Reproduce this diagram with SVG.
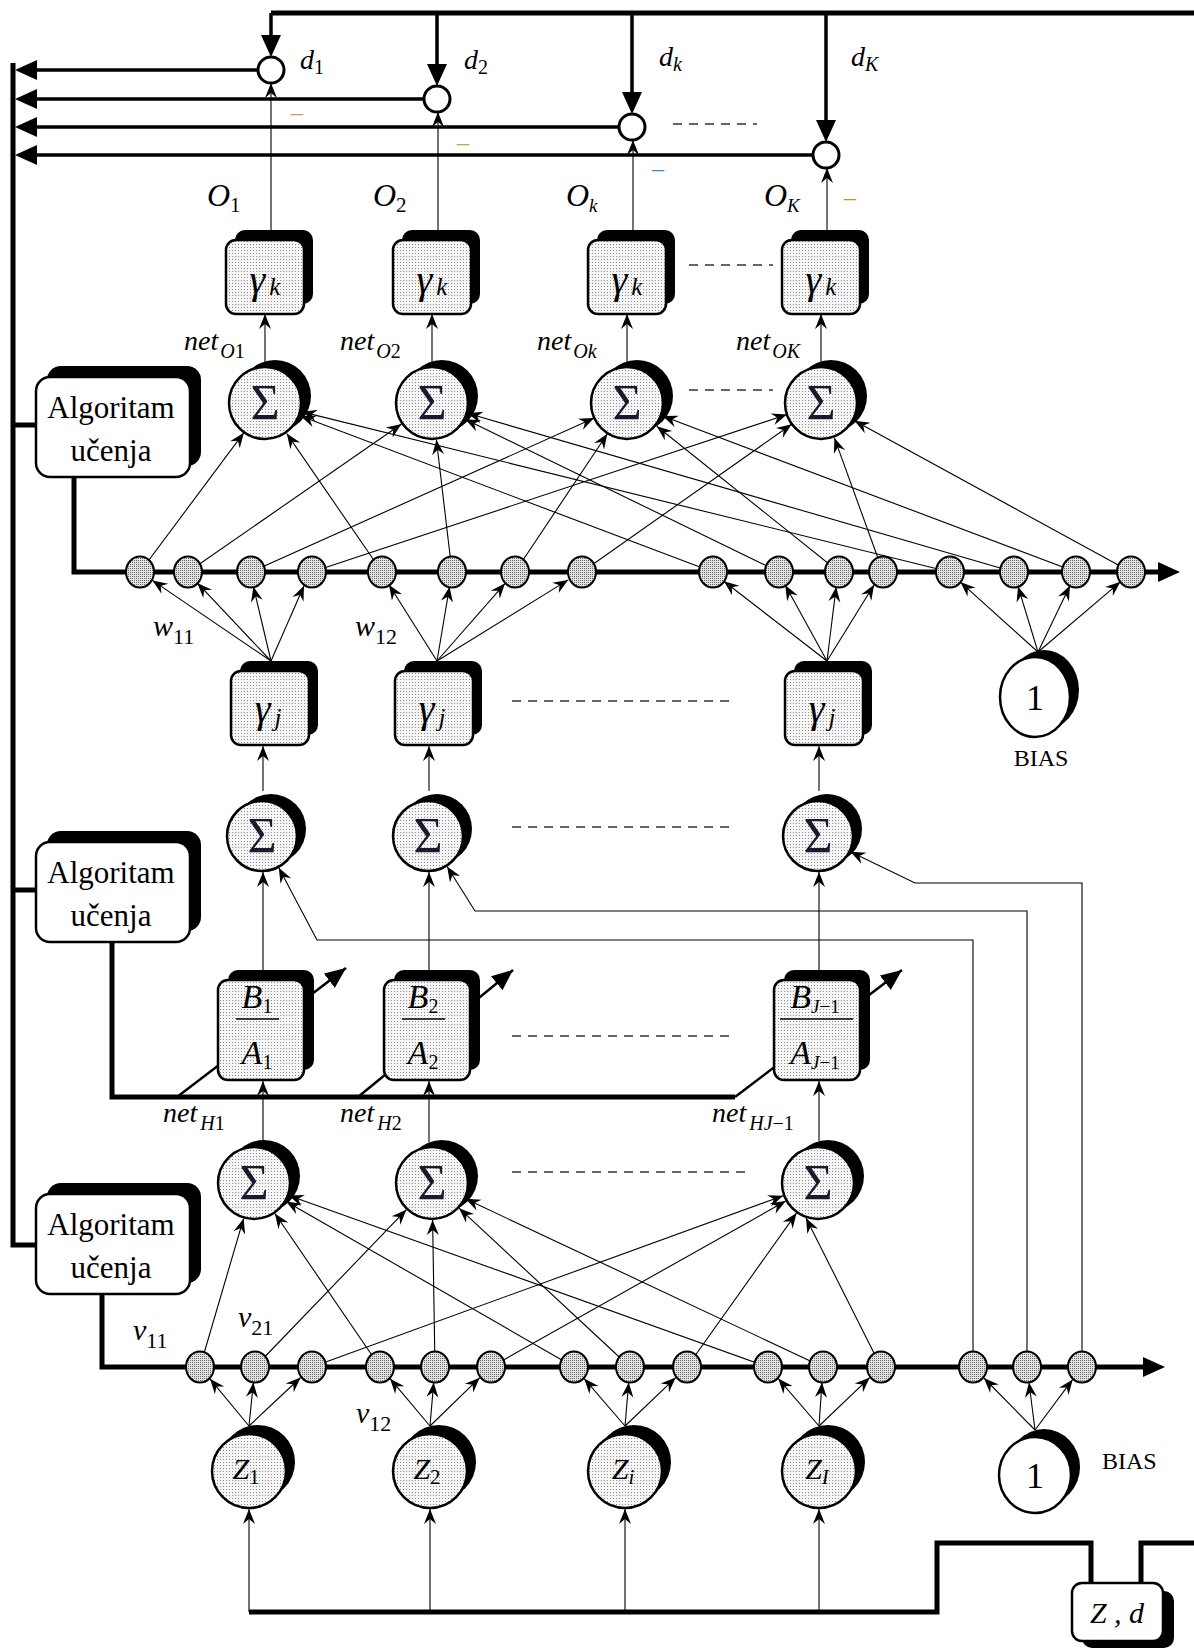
<svg xmlns="http://www.w3.org/2000/svg" width="1194" height="1650" viewBox="0 0 1194 1650">
<defs>
<pattern id="dt" width="3" height="3" patternUnits="userSpaceOnUse"><rect width="3" height="3" fill="#f6f6f6"/><rect x="1" y="1" width="1" height="1" fill="#8c8c8c"/></pattern>
<pattern id="dd" width="2" height="2" patternUnits="userSpaceOnUse"><rect width="2" height="2" fill="#e2e2e2"/><rect width="1" height="1" fill="#6a6a6a"/></pattern>
<marker id="a" viewBox="-16 -7 17 14" refX="0" refY="0" markerWidth="17" markerHeight="14" markerUnits="userSpaceOnUse" orient="auto"><path d="M0,0 L-15,-6 L-10,0 L-15,6 Z" fill="#000"/></marker>
<marker id="b" viewBox="-15 -11 24 22" refX="0" refY="0" markerWidth="24" markerHeight="22" markerUnits="userSpaceOnUse" orient="auto"><path d="M8,0 L-14,-10 L-14,10 Z" fill="#000"/></marker>
<marker id="c" viewBox="-21 -10 22 20" refX="0" refY="0" markerWidth="22" markerHeight="20" markerUnits="userSpaceOnUse" orient="auto"><path d="M0,0 L-21,-9 L-21,9 Z" fill="#000"/></marker>
</defs>
<style>
.thin{stroke:#000;stroke-width:1.1;fill:none}
.thk{stroke:#000;stroke-width:5;fill:none}
.med{stroke:#000;stroke-width:3.5;fill:none}
.adp{stroke:#000;stroke-width:2.5;fill:none}
.dash{stroke:#333;stroke-width:1.5;stroke-dasharray:9 7;fill:none}
.sh{fill:#000;stroke:none}
.fr{fill:url(#dt);stroke:#000;stroke-width:2.5}
.sm{fill:url(#dd);stroke:#000;stroke-width:2}
.wh{fill:#fff;stroke:#000;stroke-width:2.5}
.cmp{fill:#fff;stroke:#000;stroke-width:3}
text{font-family:"Liberation Serif","Times New Roman",serif;fill:#000}
.it{font-style:italic}
.sg{font-size:50px;fill:#1a1a2e}
.alg{font-size:31px}
.lb{font-size:24px}
.mn{font-size:24px}
</style>
<rect width="1194" height="1650" fill="#fff"/>

<g id="connectors">
<path class="thk" d="M271,13 H1194"/>
<path class="med" marker-end="url(#b)" d="M271,13 V49"/>
<path class="med" marker-end="url(#b)" d="M437,13 V78"/>
<path class="med" marker-end="url(#b)" d="M632,13 V106"/>
<path class="med" marker-end="url(#b)" d="M826,13 V134"/>
<path class="thk" d="M13,63 V1245 H36"/>
<path class="med" marker-end="url(#b)" d="M258,70 H23"/>
<path class="med" marker-end="url(#b)" d="M424,99 H23"/>
<path class="med" marker-end="url(#b)" d="M619,127 H23"/>
<path class="med" marker-end="url(#b)" d="M813,155 H23"/>
<path class="thk" d="M13,425 H36"/>
<path class="thk" d="M13,890 H36"/>
<path class="thin" marker-end="url(#a)" d="M271,230 V83"/>
<path class="thin" marker-end="url(#a)" d="M438,230 V112"/>
<path class="thin" marker-end="url(#a)" d="M633,230 V140"/>
<path class="thin" marker-end="url(#a)" d="M827,230 V168"/>
<path class="thin" marker-end="url(#a)" d="M265,362 V314"/>
<path class="thin" marker-end="url(#a)" d="M432,362 V314"/>
<path class="thin" marker-end="url(#a)" d="M627,362 V314"/>
<path class="thin" marker-end="url(#a)" d="M821,362 V314"/>
<path class="thk" marker-end="url(#b)" d="M74,477 V572 H1172"/>
<path class="thin" marker-end="url(#a)" d="M140,572 L243.9,432.7"/>
<path class="thin" marker-end="url(#a)" d="M188,572 L401.5,424"/>
<path class="thin" marker-end="url(#a)" d="M251,572 L594.2,418.1"/>
<path class="thin" marker-end="url(#a)" d="M312,572 L786.9,414.6"/>
<path class="thin" marker-end="url(#a)" d="M382,572 L286.8,433.6"/>
<path class="thin" marker-end="url(#a)" d="M452,572 L436.4,439.7"/>
<path class="thin" marker-end="url(#a)" d="M515,572 L607.4,433.8"/>
<path class="thin" marker-end="url(#a)" d="M582,572 L791.7,424.2"/>
<path class="thin" marker-end="url(#a)" d="M713,572 L300.6,416.1"/>
<path class="thin" marker-end="url(#a)" d="M779,572 L465.2,419.2"/>
<path class="thin" marker-end="url(#a)" d="M839,572 L656.8,426.2"/>
<path class="thin" marker-end="url(#a)" d="M883,572 L834.4,437.9"/>
<path class="thin" marker-end="url(#a)" d="M950,572 L301.9,411.9"/>
<path class="thin" marker-end="url(#a)" d="M1014,572 L467.5,413.3"/>
<path class="thin" marker-end="url(#a)" d="M1076,572 L662.6,416.1"/>
<path class="thin" marker-end="url(#a)" d="M1131,572 L854.5,420.8"/>
<path class="thin" marker-end="url(#a)" d="M271,661 L152.4,580.4"/>
<path class="thin" marker-end="url(#a)" d="M271,661 L197.3,582.9"/>
<path class="thin" marker-end="url(#a)" d="M271,661 L253.4,586.6"/>
<path class="thin" marker-end="url(#a)" d="M271,661 L304,585.7"/>
<path class="thin" marker-end="url(#a)" d="M437,661 L389,584.7"/>
<path class="thin" marker-end="url(#a)" d="M437,661 L449.5,586.8"/>
<path class="thin" marker-end="url(#a)" d="M437,661 L505.1,583.3"/>
<path class="thin" marker-end="url(#a)" d="M437,661 L568.2,579.9"/>
<path class="thin" marker-end="url(#a)" d="M827,661 L723.9,581.2"/>
<path class="thin" marker-end="url(#a)" d="M827,661 L785.2,585.1"/>
<path class="thin" marker-end="url(#a)" d="M827,661 L836.2,586.9"/>
<path class="thin" marker-end="url(#a)" d="M827,661 L874.1,584.8"/>
<path class="thin" marker-end="url(#a)" d="M1038,652 L960.4,582.1"/>
<path class="thin" marker-end="url(#a)" d="M1038,652 L1018,586.4"/>
<path class="thin" marker-end="url(#a)" d="M1038,652 L1070,585.5"/>
<path class="thin" marker-end="url(#a)" d="M1038,652 L1120.4,581.8"/>
<path class="thin" marker-end="url(#a)" d="M263,791 V746"/>
<path class="thin" marker-end="url(#a)" d="M429,791 V746"/>
<path class="thin" marker-end="url(#a)" d="M819,791 V746"/>
<path class="thin" marker-end="url(#a)" d="M263,970 V872"/>
<path class="thin" marker-end="url(#a)" d="M429,970 V872"/>
<path class="thin" marker-end="url(#a)" d="M819,970 V872"/>
<path class="thin" marker-end="url(#a)" d="M973,1367 V940 H317 L278.8,867.8"/>
<path class="thin" marker-end="url(#a)" d="M1027,1367 V911 H475 L447.1,866.5"/>
<path class="thin" marker-end="url(#a)" d="M1082,1367 V883 H915 L850.4,851.7"/>
<path class="adp" marker-end="url(#c)" d="M177,1097 L346,968"/>
<path class="adp" marker-end="url(#c)" d="M358,1097 L513,970"/>
<path class="adp" marker-end="url(#c)" d="M735,1097 L902,970"/>
<path class="thk" d="M112,942 V1097 H735"/>
<path class="thin" marker-end="url(#a)" d="M263,1140 V1081"/>
<path class="thin" marker-end="url(#a)" d="M429,1142 V1081"/>
<path class="thin" marker-end="url(#a)" d="M819,1141 V1081"/>
<path class="thk" marker-end="url(#b)" d="M102,1294 V1367 H1157"/>
<path class="thin" marker-end="url(#a)" d="M200,1367 L243.6,1218.5"/>
<path class="thin" marker-end="url(#a)" d="M380,1367 L274.9,1213.5"/>
<path class="thin" marker-end="url(#a)" d="M574,1367 L286.1,1201.4"/>
<path class="thin" marker-end="url(#a)" d="M768,1367 L288.8,1195.5"/>
<path class="thin" marker-end="url(#a)" d="M255,1367 L406.4,1209.7"/>
<path class="thin" marker-end="url(#a)" d="M435,1367 L432.6,1220"/>
<path class="thin" marker-end="url(#a)" d="M630,1367 L459.1,1208.2"/>
<path class="thin" marker-end="url(#a)" d="M823,1367 L465.5,1198.8"/>
<path class="thin" marker-end="url(#a)" d="M312,1367 L783.2,1195.7"/>
<path class="thin" marker-end="url(#a)" d="M491,1367 L785.7,1201.1"/>
<path class="thin" marker-end="url(#a)" d="M687,1367 L796.5,1213.1"/>
<path class="thin" marker-end="url(#a)" d="M881,1367 L806,1218"/>
<path class="thin" marker-end="url(#a)" d="M249,1426 L210,1378.8"/>
<path class="thin" marker-end="url(#a)" d="M249,1426 L253.4,1382.4"/>
<path class="thin" marker-end="url(#a)" d="M249,1426 L300.6,1377.5"/>
<path class="thin" marker-end="url(#a)" d="M430,1426 L390.1,1378.7"/>
<path class="thin" marker-end="url(#a)" d="M430,1426 L433.7,1382.4"/>
<path class="thin" marker-end="url(#a)" d="M430,1426 L479.8,1377.7"/>
<path class="thin" marker-end="url(#a)" d="M625,1426 L584.2,1378.6"/>
<path class="thin" marker-end="url(#a)" d="M625,1426 L628.7,1382.4"/>
<path class="thin" marker-end="url(#a)" d="M625,1426 L675.7,1377.6"/>
<path class="thin" marker-end="url(#a)" d="M819,1426 L778.2,1378.6"/>
<path class="thin" marker-end="url(#a)" d="M819,1426 L822,1382.4"/>
<path class="thin" marker-end="url(#a)" d="M819,1426 L869.7,1377.6"/>
<path class="thin" marker-end="url(#a)" d="M1035,1430 L983.9,1378"/>
<path class="thin" marker-end="url(#a)" d="M1035,1430 L1029,1382.4"/>
<path class="thin" marker-end="url(#a)" d="M1035,1430 L1072.7,1379.4"/>
<path class="thin" marker-end="url(#a)" d="M249,1612 V1509"/>
<path class="thin" marker-end="url(#a)" d="M430,1612 V1509"/>
<path class="thin" marker-end="url(#a)" d="M625,1612 V1509"/>
<path class="thin" marker-end="url(#a)" d="M819,1612 V1509"/>
<path class="thk" d="M249,1612 H937 V1543 H1091 V1583"/>
<path class="thk" d="M1141,1583 V1543 H1194"/>
<path class="dash" d="M673,124 H757"/>
<path class="dash" d="M689,265 H773"/>
<path class="dash" d="M689,390 H773"/>
<path class="dash" d="M512,701 H736"/>
<path class="dash" d="M512,827 H736"/>
<path class="dash" d="M512,1036 H736"/>
<path class="dash" d="M512,1172 H749"/>
</g>

<g id="cmp1"><circle class="cmp" cx="271" cy="70" r="13"/></g>
<g id="cmp2"><circle class="cmp" cx="437" cy="99" r="13"/></g>
<g id="cmpk"><circle class="cmp" cx="632" cy="127" r="13"/></g>
<g id="cmpK"><circle class="cmp" cx="826" cy="155" r="13"/></g>

<g id="gk1"><rect class="sh" x="235" y="230" width="78" height="74" rx="10"/><rect class="fr" x="226" y="240" width="78" height="74" rx="10"/><text x="265" y="293" text-anchor="middle"><tspan class="it" font-size="40">γ</tspan><tspan class="it" font-size="25" dx="4" dy="2">k</tspan></text></g>
<g id="gk2"><rect class="sh" x="402" y="230" width="78" height="74" rx="10"/><rect class="fr" x="393" y="240" width="78" height="74" rx="10"/><text x="432" y="293" text-anchor="middle"><tspan class="it" font-size="40">γ</tspan><tspan class="it" font-size="25" dx="4" dy="2">k</tspan></text></g>
<g id="gkk"><rect class="sh" x="597" y="230" width="78" height="74" rx="10"/><rect class="fr" x="588" y="240" width="78" height="74" rx="10"/><text x="627" y="293" text-anchor="middle"><tspan class="it" font-size="40">γ</tspan><tspan class="it" font-size="25" dx="4" dy="2">k</tspan></text></g>
<g id="gkK"><rect class="sh" x="791" y="230" width="78" height="74" rx="10"/><rect class="fr" x="782" y="240" width="78" height="74" rx="10"/><text x="821" y="293" text-anchor="middle"><tspan class="it" font-size="40">γ</tspan><tspan class="it" font-size="25" dx="4" dy="2">k</tspan></text></g>

<g id="so1"><circle class="sh" cx="275" cy="396" r="36"/><circle class="fr" cx="265" cy="403" r="36"/><text class="sg" x="265" y="419" text-anchor="middle">Σ</text></g>
<g id="so2"><circle class="sh" cx="442" cy="396" r="36"/><circle class="fr" cx="432" cy="403" r="36"/><text class="sg" x="432" y="419" text-anchor="middle">Σ</text></g>
<g id="sok"><circle class="sh" cx="637" cy="396" r="36"/><circle class="fr" cx="627" cy="403" r="36"/><text class="sg" x="627" y="419" text-anchor="middle">Σ</text></g>
<g id="soK"><circle class="sh" cx="831" cy="396" r="36"/><circle class="fr" cx="821" cy="403" r="36"/><text class="sg" x="821" y="419" text-anchor="middle">Σ</text></g>

<g id="alg1"><rect class="sh" x="47" y="366" width="154" height="100" rx="14"/><rect class="wh" x="36" y="377" width="154" height="100" rx="14" stroke-width="3"/><text class="alg" x="111" y="418" text-anchor="middle">Algoritam</text><text class="alg" x="111" y="461" text-anchor="middle">učenja</text></g>
<g id="alg2"><rect class="sh" x="47" y="831" width="154" height="100" rx="14"/><rect class="wh" x="36" y="842" width="154" height="100" rx="14" stroke-width="3"/><text class="alg" x="111" y="883" text-anchor="middle">Algoritam</text><text class="alg" x="111" y="926" text-anchor="middle">učenja</text></g>
<g id="alg3"><rect class="sh" x="47" y="1183" width="154" height="100" rx="14"/><rect class="wh" x="36" y="1194" width="154" height="100" rx="14" stroke-width="3"/><text class="alg" x="111" y="1235" text-anchor="middle">Algoritam</text><text class="alg" x="111" y="1278" text-anchor="middle">učenja</text></g>

<g id="w-nodes">
<g id="w1"><ellipse class="sm" cx="140" cy="572" rx="14" ry="15.5"/></g>
<g id="w2"><ellipse class="sm" cx="188" cy="572" rx="14" ry="15.5"/></g>
<g id="w3"><ellipse class="sm" cx="251" cy="572" rx="14" ry="15.5"/></g>
<g id="w4"><ellipse class="sm" cx="312" cy="572" rx="14" ry="15.5"/></g>
<g id="w5"><ellipse class="sm" cx="382" cy="572" rx="14" ry="15.5"/></g>
<g id="w6"><ellipse class="sm" cx="452" cy="572" rx="14" ry="15.5"/></g>
<g id="w7"><ellipse class="sm" cx="515" cy="572" rx="14" ry="15.5"/></g>
<g id="w8"><ellipse class="sm" cx="582" cy="572" rx="14" ry="15.5"/></g>
<g id="w9"><ellipse class="sm" cx="713" cy="572" rx="14" ry="15.5"/></g>
<g id="w10"><ellipse class="sm" cx="779" cy="572" rx="14" ry="15.5"/></g>
<g id="w11"><ellipse class="sm" cx="839" cy="572" rx="14" ry="15.5"/></g>
<g id="w12"><ellipse class="sm" cx="883" cy="572" rx="14" ry="15.5"/></g>
<g id="w13"><ellipse class="sm" cx="950" cy="572" rx="14" ry="15.5"/></g>
<g id="w14"><ellipse class="sm" cx="1014" cy="572" rx="14" ry="15.5"/></g>
<g id="w15"><ellipse class="sm" cx="1076" cy="572" rx="14" ry="15.5"/></g>
<g id="w16"><ellipse class="sm" cx="1131" cy="572" rx="14" ry="15.5"/></g>
</g>

<g id="gj1"><rect class="sh" x="240" y="661" width="78" height="74" rx="10"/><rect class="fr" x="231" y="671" width="78" height="74" rx="10"/><text x="268" y="722" text-anchor="middle"><tspan class="it" font-size="40">γ</tspan><tspan class="it" font-size="25" dx="4" dy="4">j</tspan></text></g>
<g id="gj2"><rect class="sh" x="404" y="661" width="78" height="74" rx="10"/><rect class="fr" x="395" y="671" width="78" height="74" rx="10"/><text x="432" y="722" text-anchor="middle"><tspan class="it" font-size="40">γ</tspan><tspan class="it" font-size="25" dx="4" dy="4">j</tspan></text></g>
<g id="gjJ"><rect class="sh" x="794" y="661" width="78" height="74" rx="10"/><rect class="fr" x="785" y="671" width="78" height="74" rx="10"/><text x="822" y="722" text-anchor="middle"><tspan class="it" font-size="40">γ</tspan><tspan class="it" font-size="25" dx="4" dy="4">j</tspan></text></g>
<g id="bias1"><ellipse class="sh" cx="1044" cy="690" rx="35" ry="40"/><ellipse class="wh" cx="1035" cy="697" rx="35" ry="40"/><text x="1035" y="710" text-anchor="middle" font-size="36">1</text><text class="lb" x="1041" y="766" text-anchor="middle">BIAS</text></g>

<g id="sh1"><circle class="sh" cx="271" cy="829" r="35"/><circle class="fr" cx="262" cy="836" r="35"/><text class="sg" x="262" y="852" text-anchor="middle">Σ</text></g>
<g id="sh2"><circle class="sh" cx="437" cy="829" r="35"/><circle class="fr" cx="428" cy="836" r="35"/><text class="sg" x="428" y="852" text-anchor="middle">Σ</text></g>
<g id="shJ"><circle class="sh" cx="827" cy="829" r="35"/><circle class="fr" cx="818" cy="836" r="35"/><text class="sg" x="818" y="852" text-anchor="middle">Σ</text></g>

<g id="ba1"><rect class="sh" x="228" y="970" width="86" height="100" rx="10"/><rect class="fr" x="218" y="980" width="86" height="100" rx="10"/><text x="257" y="1008" text-anchor="middle"><tspan class="it" font-size="34">B</tspan><tspan font-size="20" dy="5">1</tspan></text><path d="M236,1019 H279" stroke="#000" stroke-width="1.5"/><text x="257" y="1064" text-anchor="middle"><tspan class="it" font-size="34">A</tspan><tspan font-size="20" dy="5">1</tspan></text></g>
<g id="ba2"><rect class="sh" x="394" y="970" width="86" height="100" rx="10"/><rect class="fr" x="384" y="980" width="86" height="100" rx="10"/><text x="423" y="1008" text-anchor="middle"><tspan class="it" font-size="34">B</tspan><tspan font-size="20" dy="5">2</tspan></text><path d="M402,1019 H445" stroke="#000" stroke-width="1.5"/><text x="423" y="1064" text-anchor="middle"><tspan class="it" font-size="34">A</tspan><tspan font-size="20" dy="5">2</tspan></text></g>
<g id="baJ"><rect class="sh" x="784" y="970" width="86" height="100" rx="10"/><rect class="fr" x="774" y="980" width="86" height="100" rx="10"/><text x="815" y="1008" text-anchor="middle"><tspan class="it" font-size="34">B</tspan><tspan font-size="19" dy="5"><tspan class="it">J</tspan>−1</tspan></text><path d="M780,1019 H853" stroke="#000" stroke-width="1.5"/><text x="815" y="1064" text-anchor="middle"><tspan class="it" font-size="34">A</tspan><tspan font-size="19" dy="5"><tspan class="it">J</tspan>−1</tspan></text></g>

<g id="sl1"><circle class="sh" cx="264" cy="1176" r="36"/><circle class="fr" cx="254" cy="1183" r="36"/><text class="sg" x="254" y="1199" text-anchor="middle">Σ</text></g>
<g id="sl2"><circle class="sh" cx="442" cy="1176" r="36"/><circle class="fr" cx="432" cy="1183" r="36"/><text class="sg" x="432" y="1199" text-anchor="middle">Σ</text></g>
<g id="slJ"><circle class="sh" cx="828" cy="1176" r="36"/><circle class="fr" cx="818" cy="1183" r="36"/><text class="sg" x="818" y="1199" text-anchor="middle">Σ</text></g>

<g id="v-nodes">
<g id="v1"><ellipse class="sm" cx="200" cy="1367" rx="14" ry="15.5"/></g>
<g id="v2"><ellipse class="sm" cx="255" cy="1367" rx="14" ry="15.5"/></g>
<g id="v3"><ellipse class="sm" cx="312" cy="1367" rx="14" ry="15.5"/></g>
<g id="v4"><ellipse class="sm" cx="380" cy="1367" rx="14" ry="15.5"/></g>
<g id="v5"><ellipse class="sm" cx="435" cy="1367" rx="14" ry="15.5"/></g>
<g id="v6"><ellipse class="sm" cx="491" cy="1367" rx="14" ry="15.5"/></g>
<g id="v7"><ellipse class="sm" cx="574" cy="1367" rx="14" ry="15.5"/></g>
<g id="v8"><ellipse class="sm" cx="630" cy="1367" rx="14" ry="15.5"/></g>
<g id="v9"><ellipse class="sm" cx="687" cy="1367" rx="14" ry="15.5"/></g>
<g id="v10"><ellipse class="sm" cx="768" cy="1367" rx="14" ry="15.5"/></g>
<g id="v11"><ellipse class="sm" cx="823" cy="1367" rx="14" ry="15.5"/></g>
<g id="v12"><ellipse class="sm" cx="881" cy="1367" rx="14" ry="15.5"/></g>
<g id="v13"><ellipse class="sm" cx="973" cy="1367" rx="14" ry="15.5"/></g>
<g id="v14"><ellipse class="sm" cx="1027" cy="1367" rx="14" ry="15.5"/></g>
<g id="v15"><ellipse class="sm" cx="1082" cy="1367" rx="14" ry="15.5"/></g>
</g>

<g id="z1"><circle class="sh" cx="258" cy="1462" r="37"/><circle class="fr" cx="249" cy="1471" r="37"/><text x="246" y="1479" text-anchor="middle"><tspan class="it" font-size="30">Z</tspan><tspan font-size="21" dy="5">1</tspan></text></g>
<g id="z2"><circle class="sh" cx="439" cy="1462" r="37"/><circle class="fr" cx="430" cy="1471" r="37"/><text x="427" y="1479" text-anchor="middle"><tspan class="it" font-size="30">Z</tspan><tspan font-size="21" dy="5">2</tspan></text></g>
<g id="zi"><circle class="sh" cx="634" cy="1462" r="37"/><circle class="fr" cx="625" cy="1471" r="37"/><text x="623" y="1479" text-anchor="middle"><tspan class="it" font-size="30">Z</tspan><tspan class="it" font-size="21" dy="5">i</tspan></text></g>
<g id="zI"><circle class="sh" cx="828" cy="1462" r="37"/><circle class="fr" cx="819" cy="1471" r="37"/><text x="817" y="1479" text-anchor="middle"><tspan class="it" font-size="30">Z</tspan><tspan class="it" font-size="21" dy="5">I</tspan></text></g>
<g id="bias2"><ellipse class="sh" cx="1044" cy="1467" rx="36" ry="38"/><ellipse class="wh" cx="1035" cy="1475" rx="36" ry="38"/><text x="1035" y="1488" text-anchor="middle" font-size="36">1</text><text class="lb" x="1102" y="1469">BIAS</text></g>

<g id="zd"><rect class="sh" x="1082" y="1591" width="92" height="57" rx="10"/><rect class="wh" x="1072" y="1583" width="91" height="58" rx="10" stroke-width="3"/><text class="it" x="1117" y="1623" text-anchor="middle" font-size="30">Z , d</text></g>

<g id="labels">
<text x="300" y="69"><tspan class="it" font-size="28">d</tspan><tspan font-size="20" dy="5">1</tspan></text>
<text x="464" y="69"><tspan class="it" font-size="28">d</tspan><tspan font-size="20" dy="5">2</tspan></text>
<text x="659" y="66"><tspan class="it" font-size="28">d</tspan><tspan class="it" font-size="20" dy="5">k</tspan></text>
<text x="851" y="66"><tspan class="it" font-size="28">d</tspan><tspan class="it" font-size="20" dy="5">K</tspan></text>
<text class="mn" x="291" y="120" style="fill:#d09a50">–</text>
<text class="mn" x="457" y="150" style="fill:#d09a50">–</text>
<text class="mn" x="652" y="176" style="fill:#3d8ad0">–</text>
<text class="mn" x="844" y="205" style="fill:#d08a30">–</text>
<text x="207" y="206"><tspan class="it" font-size="32">O</tspan><tspan font-size="21" dy="6">1</tspan></text>
<text x="373" y="206"><tspan class="it" font-size="32">O</tspan><tspan font-size="21" dy="6">2</tspan></text>
<text x="566" y="206"><tspan class="it" font-size="32">O</tspan><tspan class="it" font-size="19" dy="6">k</tspan></text>
<text x="764" y="206"><tspan class="it" font-size="32">O</tspan><tspan class="it" font-size="19" dy="6">K</tspan></text>
<text x="184" y="350"><tspan class="it" font-size="28">net</tspan><tspan font-size="20" dx="2" dy="8"><tspan class="it">O</tspan>1</tspan></text>
<text x="340" y="350"><tspan class="it" font-size="28">net</tspan><tspan font-size="20" dx="2" dy="8"><tspan class="it">O</tspan>2</tspan></text>
<text x="537" y="350"><tspan class="it" font-size="28">net</tspan><tspan class="it" font-size="20" dx="2" dy="8">Ok</tspan></text>
<text x="736" y="350"><tspan class="it" font-size="28">net</tspan><tspan class="it" font-size="20" dx="2" dy="8">OK</tspan></text>
<text x="153" y="636"><tspan class="it" font-size="30">w</tspan><tspan font-size="22" dy="8">11</tspan></text>
<text x="355" y="636"><tspan class="it" font-size="30">w</tspan><tspan font-size="22" dy="8">12</tspan></text>
<text x="163" y="1122"><tspan class="it" font-size="28">net</tspan><tspan font-size="20" dx="3" dy="8"><tspan class="it">H</tspan>1</tspan></text>
<text x="340" y="1122"><tspan class="it" font-size="28">net</tspan><tspan font-size="20" dx="3" dy="8"><tspan class="it">H</tspan>2</tspan></text>
<text x="712" y="1122"><tspan class="it" font-size="28">net</tspan><tspan font-size="20" dx="3" dy="8"><tspan class="it">HJ</tspan>−1</tspan></text>
<text x="133" y="1340"><tspan class="it" font-size="30">v</tspan><tspan font-size="22" dy="8">11</tspan></text>
<text x="238" y="1327"><tspan class="it" font-size="30">v</tspan><tspan font-size="22" dy="8">21</tspan></text>
<text x="356" y="1423"><tspan class="it" font-size="30">v</tspan><tspan font-size="22" dy="8">12</tspan></text>
</g>
</svg>
